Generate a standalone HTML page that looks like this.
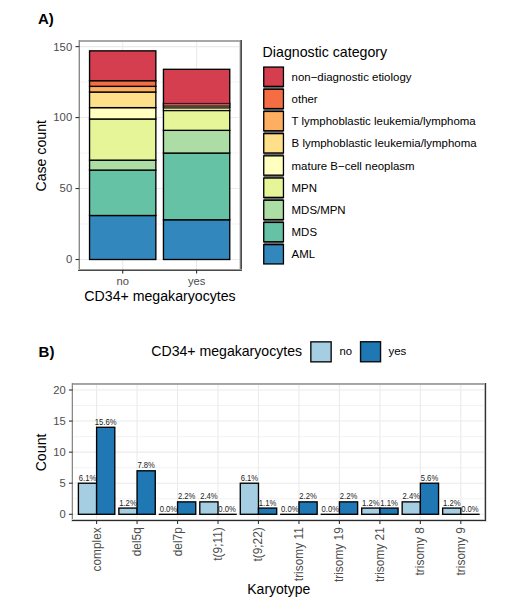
<!DOCTYPE html>
<html><head><meta charset="utf-8"><title>Figure</title>
<style>
html,body{margin:0;padding:0;background:#fff;}
body{width:520px;height:610px;overflow:hidden;}
svg{display:block;font-family:"Liberation Sans", sans-serif;}
</style></head>
<body>
<svg width="520" height="610" viewBox="0 0 520 610">
<rect width="520" height="610" fill="#fff"/>
<text x="38" y="24.4" font-size="15" font-weight="bold" fill="#000">A)</text>
<rect x="79.2" y="40.85" width="162" height="228.85" fill="#fff"/>
<line x1="79.2" x2="241.2" y1="224.02" y2="224.02" stroke="#EBEBEB" stroke-width="0.6"/>
<line x1="79.2" x2="241.2" y1="153.05" y2="153.05" stroke="#EBEBEB" stroke-width="0.6"/>
<line x1="79.2" x2="241.2" y1="82.09" y2="82.09" stroke="#EBEBEB" stroke-width="0.6"/>
<line x1="79.2" x2="241.2" y1="259.5" y2="259.5" stroke="#EBEBEB" stroke-width="1.1"/>
<line x1="79.2" x2="241.2" y1="188.53" y2="188.53" stroke="#EBEBEB" stroke-width="1.1"/>
<line x1="79.2" x2="241.2" y1="117.57" y2="117.57" stroke="#EBEBEB" stroke-width="1.1"/>
<line x1="79.2" x2="241.2" y1="46.6" y2="46.6" stroke="#EBEBEB" stroke-width="1.1"/>
<line x1="122.7" x2="122.7" y1="40.85" y2="269.7" stroke="#EBEBEB" stroke-width="1.1"/>
<line x1="196.6" x2="196.6" y1="40.85" y2="269.7" stroke="#EBEBEB" stroke-width="1.1"/>
<rect x="89.55" y="215.5" width="66.3" height="44" fill="#3288BD" stroke="#000000" stroke-width="1.35"/>
<rect x="89.55" y="170.08" width="66.3" height="45.42" fill="#66C2A5" stroke="#000000" stroke-width="1.35"/>
<rect x="89.55" y="160.15" width="66.3" height="9.94" fill="#ABDDA4" stroke="#000000" stroke-width="1.35"/>
<rect x="89.55" y="118.99" width="66.3" height="41.16" fill="#E6F598" stroke="#000000" stroke-width="1.35"/>
<rect x="89.55" y="107.63" width="66.3" height="11.35" fill="#FFFFBF" stroke="#000000" stroke-width="1.35"/>
<rect x="89.55" y="92.02" width="66.3" height="15.61" fill="#FEE08B" stroke="#000000" stroke-width="1.35"/>
<rect x="89.55" y="86.35" width="66.3" height="5.68" fill="#FDAE61" stroke="#000000" stroke-width="1.35"/>
<rect x="89.55" y="80.67" width="66.3" height="5.68" fill="#F46D43" stroke="#000000" stroke-width="1.35"/>
<rect x="89.55" y="50.86" width="66.3" height="29.81" fill="#D53E4F" stroke="#000000" stroke-width="1.35"/>
<rect x="163.45" y="219.76" width="66.3" height="39.74" fill="#3288BD" stroke="#000000" stroke-width="1.35"/>
<rect x="163.45" y="153.05" width="66.3" height="66.71" fill="#66C2A5" stroke="#000000" stroke-width="1.35"/>
<rect x="163.45" y="130.34" width="66.3" height="22.71" fill="#ABDDA4" stroke="#000000" stroke-width="1.35"/>
<rect x="163.45" y="110.47" width="66.3" height="19.87" fill="#E6F598" stroke="#000000" stroke-width="1.35"/>
<rect x="163.45" y="107.63" width="66.3" height="2.84" fill="#FFFFBF" stroke="#000000" stroke-width="1.35"/>
<rect x="163.45" y="106.22" width="66.3" height="1.42" fill="#FEE08B" stroke="#000000" stroke-width="1.35"/>
<rect x="163.45" y="104.8" width="66.3" height="1.42" fill="#FDAE61" stroke="#000000" stroke-width="1.35"/>
<rect x="163.45" y="103.38" width="66.3" height="1.42" fill="#F46D43" stroke="#000000" stroke-width="1.35"/>
<rect x="163.45" y="69.31" width="66.3" height="34.06" fill="#D53E4F" stroke="#000000" stroke-width="1.35"/>
<rect x="164.2" y="102" width="65" height="1" fill="#B04050"/>
<rect x="164.2" y="103" width="65" height="1" fill="#5A0A18"/>
<rect x="164.2" y="104" width="65" height="1" fill="#B06060"/>
<rect x="164.2" y="105" width="65" height="1" fill="#704030"/>
<rect x="164.2" y="106" width="65" height="1" fill="#504030"/>
<rect x="164.2" y="107" width="65" height="1" fill="#484530"/>
<rect x="164.2" y="108" width="65" height="1" fill="#706840"/>
<rect x="164.2" y="109" width="65" height="1" fill="#E0DDB0"/>
<rect x="164.2" y="110" width="65" height="1" fill="#0A1005"/>
<rect x="79" y="40" width="163" height="1" fill="#A8A8A8" shape-rendering="crispEdges"/>
<rect x="79" y="41" width="163" height="1" fill="#A8A8A8" shape-rendering="crispEdges"/>
<rect x="78" y="40" width="1" height="231" fill="#D0D0D0" shape-rendering="crispEdges"/>
<rect x="79" y="40" width="1" height="231" fill="#8A8A8A" shape-rendering="crispEdges"/>
<rect x="239" y="42" width="1" height="227" fill="#D8D8D8" shape-rendering="crispEdges"/>
<rect x="240" y="40" width="1" height="231" fill="#777777" shape-rendering="crispEdges"/>
<rect x="241" y="40" width="1" height="231" fill="#4A4A4A" shape-rendering="crispEdges"/>
<rect x="79" y="269" width="163" height="1" fill="#999999" shape-rendering="crispEdges"/>
<rect x="78" y="270" width="164" height="1" fill="#4A4A4A" shape-rendering="crispEdges"/>
<line x1="75.5" x2="79.2" y1="259.5" y2="259.5" stroke="#333333" stroke-width="1.1"/>
<text x="72.2" y="263.4" font-size="11.3" fill="#4D4D4D" text-anchor="end">0</text>
<line x1="75.5" x2="79.2" y1="188.53" y2="188.53" stroke="#333333" stroke-width="1.1"/>
<text x="72.2" y="192.44" font-size="11.3" fill="#4D4D4D" text-anchor="end">50</text>
<line x1="75.5" x2="79.2" y1="117.57" y2="117.57" stroke="#333333" stroke-width="1.1"/>
<text x="72.2" y="121.47" font-size="11.3" fill="#4D4D4D" text-anchor="end">100</text>
<line x1="75.5" x2="79.2" y1="46.6" y2="46.6" stroke="#333333" stroke-width="1.1"/>
<text x="72.2" y="50.5" font-size="11.3" fill="#4D4D4D" text-anchor="end">150</text>
<line x1="122.7" x2="122.7" y1="269.7" y2="273.4" stroke="#333333" stroke-width="1.1"/>
<text x="122.7" y="284.6" font-size="11.2" fill="#4D4D4D" text-anchor="middle">no</text>
<line x1="196.6" x2="196.6" y1="269.7" y2="273.4" stroke="#333333" stroke-width="1.1"/>
<text x="196.6" y="284.6" font-size="11.2" fill="#4D4D4D" text-anchor="middle">yes</text>
<text x="160" y="301.1" font-size="14.15" fill="#000" text-anchor="middle">CD34+ megakaryocytes</text>
<text transform="translate(46.0,155.8) rotate(-90)" font-size="14.15" fill="#000" text-anchor="middle">Case count</text>
<text x="262.6" y="57.0" font-size="14.2" fill="#000">Diagnostic category</text>
<rect x="263.6" y="67" width="20" height="197" fill="#6a6a6a"/>
<rect x="263.75" y="67.05" width="19.7" height="19.3" fill="#D53E4F" stroke="#000" stroke-width="1.3"/>
<text x="291.6" y="80.7" font-size="11.45" fill="#000">non−diagnostic etiology</text>
<rect x="263.75" y="89.25" width="19.7" height="19.3" fill="#F46D43" stroke="#000" stroke-width="1.3"/>
<text x="291.6" y="102.9" font-size="11.45" fill="#000">other</text>
<rect x="263.75" y="111.45" width="19.7" height="19.3" fill="#FDAE61" stroke="#000" stroke-width="1.3"/>
<text x="291.6" y="125.1" font-size="11.45" fill="#000">T lymphoblastic leukemia/lymphoma</text>
<rect x="263.75" y="133.65" width="19.7" height="19.3" fill="#FEE08B" stroke="#000" stroke-width="1.3"/>
<text x="291.6" y="147.3" font-size="11.45" fill="#000">B lymphoblastic leukemia/lymphoma</text>
<rect x="263.75" y="155.85" width="19.7" height="19.3" fill="#FFFFBF" stroke="#000" stroke-width="1.3"/>
<text x="291.6" y="169.5" font-size="11.45" fill="#000">mature B−cell neoplasm</text>
<rect x="263.75" y="178.05" width="19.7" height="19.3" fill="#E6F598" stroke="#000" stroke-width="1.3"/>
<text x="291.6" y="191.7" font-size="11.45" fill="#000">MPN</text>
<rect x="263.75" y="200.25" width="19.7" height="19.3" fill="#ABDDA4" stroke="#000" stroke-width="1.3"/>
<text x="291.6" y="213.9" font-size="11.45" fill="#000">MDS/MPN</text>
<rect x="263.75" y="222.45" width="19.7" height="19.3" fill="#66C2A5" stroke="#000" stroke-width="1.3"/>
<text x="291.6" y="236.1" font-size="11.45" fill="#000">MDS</text>
<rect x="263.75" y="244.65" width="19.7" height="19.3" fill="#3288BD" stroke="#000" stroke-width="1.3"/>
<text x="291.6" y="258.3" font-size="11.45" fill="#000">AML</text>
<text x="38.6" y="356.9" font-size="15" font-weight="bold" fill="#000">B)</text>
<text x="151.3" y="356.2" font-size="14.1" fill="#000">CD34+ megakaryocytes</text>
<rect x="310.85" y="341.85" width="20.3" height="20.0" fill="#A6CEE3" stroke="#0d0d0d" stroke-width="1.4"/>
<text x="339.5" y="354.7" font-size="11.3" fill="#000">no</text>
<rect x="360.55" y="341.75" width="20.0" height="20.0" fill="#1F78B4" stroke="#0d0d0d" stroke-width="1.4"/>
<text x="388.4" y="354.7" font-size="11.5" fill="#000">yes</text>
<rect x="72.6" y="384" width="412.6" height="136.3" fill="#fff"/>
<line x1="72.6" x2="485.2" y1="498.76" y2="498.76" stroke="#EBEBEB" stroke-width="0.6"/>
<line x1="72.6" x2="485.2" y1="467.69" y2="467.69" stroke="#EBEBEB" stroke-width="0.6"/>
<line x1="72.6" x2="485.2" y1="436.61" y2="436.61" stroke="#EBEBEB" stroke-width="0.6"/>
<line x1="72.6" x2="485.2" y1="405.54" y2="405.54" stroke="#EBEBEB" stroke-width="0.6"/>
<line x1="72.6" x2="485.2" y1="514.3" y2="514.3" stroke="#EBEBEB" stroke-width="1.1"/>
<line x1="72.6" x2="485.2" y1="483.22" y2="483.22" stroke="#EBEBEB" stroke-width="1.1"/>
<line x1="72.6" x2="485.2" y1="452.15" y2="452.15" stroke="#EBEBEB" stroke-width="1.1"/>
<line x1="72.6" x2="485.2" y1="421.07" y2="421.07" stroke="#EBEBEB" stroke-width="1.1"/>
<line x1="72.6" x2="485.2" y1="390" y2="390" stroke="#EBEBEB" stroke-width="1.1"/>
<line x1="96.6" x2="96.6" y1="384" y2="520.3" stroke="#EBEBEB" stroke-width="1.1"/>
<line x1="137.07" x2="137.07" y1="384" y2="520.3" stroke="#EBEBEB" stroke-width="1.1"/>
<line x1="177.54" x2="177.54" y1="384" y2="520.3" stroke="#EBEBEB" stroke-width="1.1"/>
<line x1="218.01" x2="218.01" y1="384" y2="520.3" stroke="#EBEBEB" stroke-width="1.1"/>
<line x1="258.48" x2="258.48" y1="384" y2="520.3" stroke="#EBEBEB" stroke-width="1.1"/>
<line x1="298.95" x2="298.95" y1="384" y2="520.3" stroke="#EBEBEB" stroke-width="1.1"/>
<line x1="339.42" x2="339.42" y1="384" y2="520.3" stroke="#EBEBEB" stroke-width="1.1"/>
<line x1="379.89" x2="379.89" y1="384" y2="520.3" stroke="#EBEBEB" stroke-width="1.1"/>
<line x1="420.36" x2="420.36" y1="384" y2="520.3" stroke="#EBEBEB" stroke-width="1.1"/>
<line x1="460.83" x2="460.83" y1="384" y2="520.3" stroke="#EBEBEB" stroke-width="1.1"/>
<rect x="78.4" y="483.22" width="18.2" height="31.07" fill="#A6CEE3" stroke="#000" stroke-width="1.35"/>
<text transform="translate(87.5,480.72) scale(0.8,1)" font-size="9.6" fill="#1a1a1a" text-anchor="middle">6.1%</text>
<rect x="96.6" y="427.29" width="18.2" height="87.01" fill="#1F78B4" stroke="#000" stroke-width="1.35"/>
<text transform="translate(105.7,424.79) scale(0.8,1)" font-size="9.6" fill="#1a1a1a" text-anchor="middle">15.6%</text>
<rect x="118.87" y="508.08" width="18.2" height="6.21" fill="#A6CEE3" stroke="#000" stroke-width="1.35"/>
<text transform="translate(127.97,505.58) scale(0.8,1)" font-size="9.6" fill="#1a1a1a" text-anchor="middle">1.2%</text>
<rect x="137.07" y="470.79" width="18.2" height="43.5" fill="#1F78B4" stroke="#000" stroke-width="1.35"/>
<text transform="translate(146.17,468.29) scale(0.8,1)" font-size="9.6" fill="#1a1a1a" text-anchor="middle">7.8%</text>
<line x1="158.74" x2="178.14" y1="514.3" y2="514.3" stroke="#000" stroke-width="1.35"/>
<text transform="translate(168.44,511.8) scale(0.8,1)" font-size="9.6" fill="#1a1a1a" text-anchor="middle">0.0%</text>
<rect x="177.54" y="501.87" width="18.2" height="12.43" fill="#1F78B4" stroke="#000" stroke-width="1.35"/>
<text transform="translate(186.64,499.37) scale(0.8,1)" font-size="9.6" fill="#1a1a1a" text-anchor="middle">2.2%</text>
<rect x="199.81" y="501.87" width="18.2" height="12.43" fill="#A6CEE3" stroke="#000" stroke-width="1.35"/>
<text transform="translate(208.91,499.37) scale(0.8,1)" font-size="9.6" fill="#1a1a1a" text-anchor="middle">2.4%</text>
<line x1="217.41" x2="236.81" y1="514.3" y2="514.3" stroke="#000" stroke-width="1.35"/>
<text transform="translate(227.11,511.8) scale(0.8,1)" font-size="9.6" fill="#1a1a1a" text-anchor="middle">0.0%</text>
<rect x="240.28" y="483.22" width="18.2" height="31.07" fill="#A6CEE3" stroke="#000" stroke-width="1.35"/>
<text transform="translate(249.38,480.72) scale(0.8,1)" font-size="9.6" fill="#1a1a1a" text-anchor="middle">6.1%</text>
<rect x="258.48" y="508.08" width="18.2" height="6.21" fill="#1F78B4" stroke="#000" stroke-width="1.35"/>
<text transform="translate(267.58,505.58) scale(0.8,1)" font-size="9.6" fill="#1a1a1a" text-anchor="middle">1.1%</text>
<line x1="280.15" x2="299.55" y1="514.3" y2="514.3" stroke="#000" stroke-width="1.35"/>
<text transform="translate(289.85,511.8) scale(0.8,1)" font-size="9.6" fill="#1a1a1a" text-anchor="middle">0.0%</text>
<rect x="298.95" y="501.87" width="18.2" height="12.43" fill="#1F78B4" stroke="#000" stroke-width="1.35"/>
<text transform="translate(308.05,499.37) scale(0.8,1)" font-size="9.6" fill="#1a1a1a" text-anchor="middle">2.2%</text>
<line x1="320.62" x2="340.02" y1="514.3" y2="514.3" stroke="#000" stroke-width="1.35"/>
<text transform="translate(330.32,511.8) scale(0.8,1)" font-size="9.6" fill="#1a1a1a" text-anchor="middle">0.0%</text>
<rect x="339.42" y="501.87" width="18.2" height="12.43" fill="#1F78B4" stroke="#000" stroke-width="1.35"/>
<text transform="translate(348.52,499.37) scale(0.8,1)" font-size="9.6" fill="#1a1a1a" text-anchor="middle">2.2%</text>
<rect x="361.69" y="508.08" width="18.2" height="6.21" fill="#A6CEE3" stroke="#000" stroke-width="1.35"/>
<text transform="translate(370.79,505.58) scale(0.8,1)" font-size="9.6" fill="#1a1a1a" text-anchor="middle">1.2%</text>
<rect x="379.89" y="508.08" width="18.2" height="6.21" fill="#1F78B4" stroke="#000" stroke-width="1.35"/>
<text transform="translate(388.99,505.58) scale(0.8,1)" font-size="9.6" fill="#1a1a1a" text-anchor="middle">1.1%</text>
<rect x="402.16" y="501.87" width="18.2" height="12.43" fill="#A6CEE3" stroke="#000" stroke-width="1.35"/>
<text transform="translate(411.26,499.37) scale(0.8,1)" font-size="9.6" fill="#1a1a1a" text-anchor="middle">2.4%</text>
<rect x="420.36" y="483.22" width="18.2" height="31.07" fill="#1F78B4" stroke="#000" stroke-width="1.35"/>
<text transform="translate(429.46,480.72) scale(0.8,1)" font-size="9.6" fill="#1a1a1a" text-anchor="middle">5.6%</text>
<rect x="442.63" y="508.08" width="18.2" height="6.21" fill="#A6CEE3" stroke="#000" stroke-width="1.35"/>
<text transform="translate(451.73,505.58) scale(0.8,1)" font-size="9.6" fill="#1a1a1a" text-anchor="middle">1.2%</text>
<line x1="460.23" x2="479.63" y1="514.3" y2="514.3" stroke="#000" stroke-width="1.35"/>
<text transform="translate(469.93,511.8) scale(0.8,1)" font-size="9.6" fill="#1a1a1a" text-anchor="middle">0.0%</text>
<rect x="72" y="383" width="414" height="1" fill="#A4A4A4" shape-rendering="crispEdges"/>
<rect x="72" y="384" width="414" height="1" fill="#A8A8A8" shape-rendering="crispEdges"/>
<rect x="71" y="383" width="1" height="139" fill="#DDDDDD" shape-rendering="crispEdges"/>
<rect x="72" y="383" width="1" height="139" fill="#888888" shape-rendering="crispEdges"/>
<rect x="484" y="385" width="1" height="135" fill="#BBBBBB" shape-rendering="crispEdges"/>
<rect x="485" y="383" width="1" height="139" fill="#333333" shape-rendering="crispEdges"/>
<rect x="486" y="383" width="1" height="139" fill="#DDDDDD" shape-rendering="crispEdges"/>
<rect x="72" y="519" width="412" height="1" fill="#CCCCCC" shape-rendering="crispEdges"/>
<rect x="72" y="520" width="414" height="1" fill="#2A2A2A" shape-rendering="crispEdges"/>
<rect x="72" y="521" width="414" height="1" fill="#E0E0E0" shape-rendering="crispEdges"/>
<line x1="68.9" x2="72.6" y1="514.3" y2="514.3" stroke="#333333" stroke-width="1.1"/>
<text x="65.7" y="518.4" font-size="11.2" fill="#4D4D4D" text-anchor="end">0</text>
<line x1="68.9" x2="72.6" y1="483.22" y2="483.22" stroke="#333333" stroke-width="1.1"/>
<text x="65.7" y="487.32" font-size="11.2" fill="#4D4D4D" text-anchor="end">5</text>
<line x1="68.9" x2="72.6" y1="452.15" y2="452.15" stroke="#333333" stroke-width="1.1"/>
<text x="65.7" y="456.25" font-size="11.2" fill="#4D4D4D" text-anchor="end">10</text>
<line x1="68.9" x2="72.6" y1="421.07" y2="421.07" stroke="#333333" stroke-width="1.1"/>
<text x="65.7" y="425.17" font-size="11.2" fill="#4D4D4D" text-anchor="end">15</text>
<line x1="68.9" x2="72.6" y1="390" y2="390" stroke="#333333" stroke-width="1.1"/>
<text x="65.7" y="394.1" font-size="11.2" fill="#4D4D4D" text-anchor="end">20</text>
<line x1="96.6" x2="96.6" y1="520.3" y2="524" stroke="#333333" stroke-width="1.1"/>
<text transform="translate(100.6,527.2) rotate(-90)" font-size="11.9" fill="#4D4D4D" text-anchor="end">complex</text>
<line x1="137.07" x2="137.07" y1="520.3" y2="524" stroke="#333333" stroke-width="1.1"/>
<text transform="translate(141.07,527.2) rotate(-90)" font-size="11.9" fill="#4D4D4D" text-anchor="end">del5q</text>
<line x1="177.54" x2="177.54" y1="520.3" y2="524" stroke="#333333" stroke-width="1.1"/>
<text transform="translate(181.54,527.2) rotate(-90)" font-size="11.9" fill="#4D4D4D" text-anchor="end">del7p</text>
<line x1="218.01" x2="218.01" y1="520.3" y2="524" stroke="#333333" stroke-width="1.1"/>
<text transform="translate(222.01,527.2) rotate(-90)" font-size="11.9" fill="#4D4D4D" text-anchor="end">t(9;11)</text>
<line x1="258.48" x2="258.48" y1="520.3" y2="524" stroke="#333333" stroke-width="1.1"/>
<text transform="translate(262.48,527.2) rotate(-90)" font-size="11.9" fill="#4D4D4D" text-anchor="end">t(9;22)</text>
<line x1="298.95" x2="298.95" y1="520.3" y2="524" stroke="#333333" stroke-width="1.1"/>
<text transform="translate(302.95,527.2) rotate(-90)" font-size="11.9" fill="#4D4D4D" text-anchor="end">trisomy 11</text>
<line x1="339.42" x2="339.42" y1="520.3" y2="524" stroke="#333333" stroke-width="1.1"/>
<text transform="translate(343.42,527.2) rotate(-90)" font-size="11.9" fill="#4D4D4D" text-anchor="end">trisomy 19</text>
<line x1="379.89" x2="379.89" y1="520.3" y2="524" stroke="#333333" stroke-width="1.1"/>
<text transform="translate(383.89,527.2) rotate(-90)" font-size="11.9" fill="#4D4D4D" text-anchor="end">trisomy 21</text>
<line x1="420.36" x2="420.36" y1="520.3" y2="524" stroke="#333333" stroke-width="1.1"/>
<text transform="translate(424.36,527.2) rotate(-90)" font-size="11.9" fill="#4D4D4D" text-anchor="end">trisomy 8</text>
<line x1="460.83" x2="460.83" y1="520.3" y2="524" stroke="#333333" stroke-width="1.1"/>
<text transform="translate(464.83,527.2) rotate(-90)" font-size="11.9" fill="#4D4D4D" text-anchor="end">trisomy 9</text>
<text x="278.8" y="594.0" font-size="14" fill="#000" text-anchor="middle">Karyotype</text>
<text transform="translate(45.9,452.45) rotate(-90)" font-size="14.2" fill="#000" text-anchor="middle">Count</text>
</svg>
</body></html>
